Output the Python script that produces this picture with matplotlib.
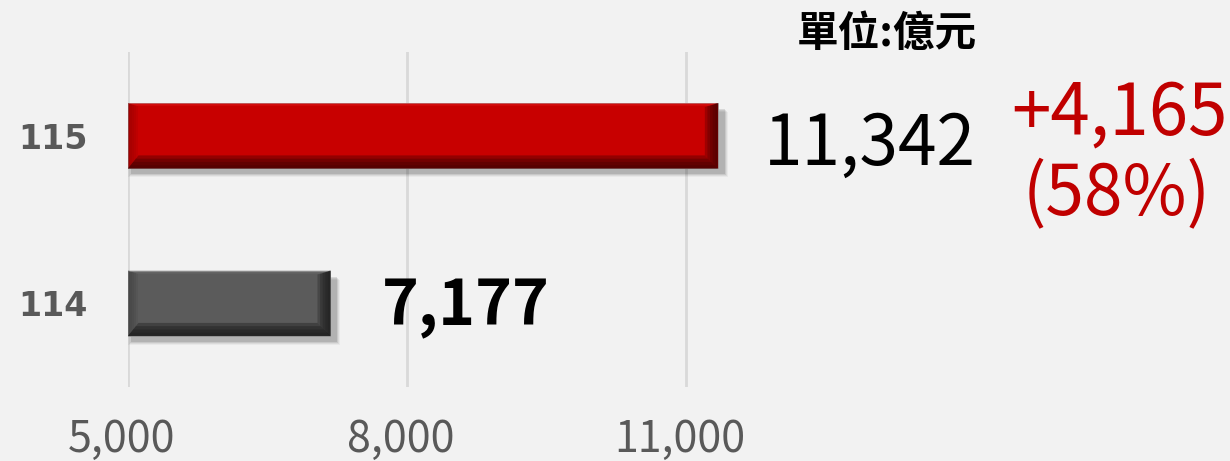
import matplotlib
matplotlib.use("Agg")
import matplotlib.pyplot as plt
import matplotlib.transforms as mtransforms
from matplotlib.patches import Polygon, Rectangle

# ===================== DATOS =====================
years = ['114', '115']
values = [7177, 11342]
ticks = [5000, 8000, 11000]
unit_label = '單位:億元'

# ===================== ESTILO =====================
BG = '#f2f2f2'
CJK = ['Noto Sans CJK TC', 'DejaVu Sans']
bar_styles = [
    dict(face='#5b5b5b', dark='#1e1e1e', left='#3a3a3a', top='#7a7a7a'),
    dict(face='#c80000', dark='#4a0000', left='#8a0000', top='#e02020'),
]

W, H, DPI = 1230, 461, 100
fig = plt.figure(figsize=(W / DPI, H / DPI), dpi=DPI, facecolor=BG)
ax = fig.add_axes([128 / W, (H - 387) / H, (W - 128) / W, 335 / H], facecolor=BG)

XMIN = 5000
XMAX = XMIN + (W - 128) / 0.093
ax.set_xlim(XMIN, XMAX)
ax.set_ylim(-0.5, 1.5)
for s in ax.spines.values():
    s.set_visible(False)
ax.set_xticks(ticks)
ax.set_xticklabels([f'{t:,}' for t in ticks], fontsize=31, color='#595959', family=CJK)
ax.set_yticks(range(len(years)))
ax.set_yticklabels(years, fontsize=24, color='#595959', family='DejaVu Sans', fontweight='bold')
ax.tick_params(axis='x', length=0, pad=22)
ax.tick_params(axis='y', length=0, pad=29)
ax.grid(axis='x', color='#d9d9d9', lw=2)
ax.set_axisbelow(True)
# etiquetas del eje x un poco a la izquierda, como en el original
shift = mtransforms.ScaledTranslation(-6 / DPI, 0, fig.dpi_scale_trans)
for lab in ax.get_xticklabels():
    lab.set_transform(lab.get_transform() + shift)

# unidades de datos por pixel
dpx = (XMAX - XMIN) / (W - 128)
dpy = 2.0 / 335
bh = 0.39


def bisel(pts_fn, width, color, n=5, alpha=0.3):
    # capas semitransparentes: mas oscuro hacia el borde exterior
    for k in range(1, n + 1):
        ax.add_patch(Polygon(pts_fn(width * k / n), closed=True, facecolor=color,
                             alpha=alpha, lw=0, zorder=4))


for i, (v, st) in enumerate(zip(values, bar_styles)):
    x0, x1 = XMIN, v
    y0, y1 = i - bh / 2, i + bh / 2
    # sombra difusa
    for k, a in enumerate([0.04, 0.06, 0.08, 0.11]):
        g = 4 - k
        ax.add_patch(Rectangle((x0 + (4 - g) * dpx, y0 - (5 + g) * dpy),
                               (x1 - x0) + (2 + 2 * g) * dpx, (y1 - y0),
                               facecolor='#000000', alpha=a, lw=0, zorder=2))
    ax.barh(i, v - XMIN, left=XMIN, height=bh, color=st['face'], zorder=3,
            edgecolor='#999999', linewidth=0.6)

    # bisel inferior
    bisel(lambda t: [(x0, y0), (x1, y0), (x1 - t * dpx, y0 + t * dpy), (x0 + t * 0.8 * dpx, y0 + t * dpy)],
          13, st['dark'], n=4, alpha=0.42)
    # bisel derecho
    bisel(lambda t: [(x1, y0), (x1, y1), (x1 - t * dpx, y1 - 0.3 * t * dpy), (x1 - t * dpx, y0 + t * dpy)],
          13, st['dark'], n=5, alpha=0.32)
    # bisel izquierdo
    bisel(lambda t: [(x0, y0), (x0, y1), (x0 + t * dpx, y1 - 0.3 * t * dpy), (x0 + t * dpx, y0 + 1.25 * t * dpy)],
          10, st['left'], alpha=0.15)
    # bisel superior
    bisel(lambda t: [(x0, y1), (x1, y1), (x1 - 3 * t * dpx, y1 - t * dpy), (x0 + 3 * t * dpx, y1 - t * dpy)],
          3, st['top'], n=2, alpha=0.3)

# etiquetas de valor
ax.annotate(f'{values[1]:,}', (values[1], 1), xytext=(33, -7), textcoords='offset points',
            fontsize=50, family=CJK, color='black', va='center', ha='left')
ax.annotate(f'{values[0]:,}', (values[0], 0), xytext=(37, -3), textcoords='offset points',
            fontsize=45, family=CJK, fontweight='bold', color='black', va='center', ha='left')

diff = values[1] - values[0]
pct = diff / values[0] * 100
fig.text(1119 / W, 1 - 114 / H, f'+{diff:,}', fontsize=51, family=CJK, color='#c00000',
         ha='center', va='center')
fig.text(1117 / W, 1 - 196 / H, f'({pct:.0f}%)', fontsize=50, family=CJK, color='#c00000',
         ha='center', va='center')
fig.text(887 / W, 1 - 34 / H, unit_label, fontsize=30, family=CJK, fontweight='bold',
         color='black', ha='center', va='center')

fig.savefig('out.png', dpi=DPI, facecolor=BG)
